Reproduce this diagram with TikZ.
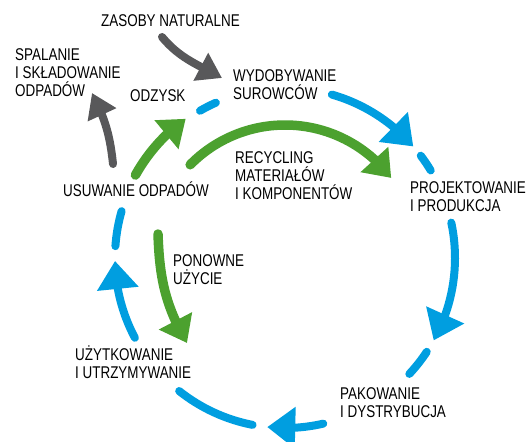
\documentclass[tikz,border=0pt]{standalone}
\usepackage{fontspec}
\setmainfont[FakeStretch=0.79]{Liberation Sans}
\usetikzlibrary{arrows.meta,bending,calc}
\definecolor{cblue}{RGB}{0,158,224}
\definecolor{cgreen}{RGB}{76,161,47}
\definecolor{cgray}{RGB}{88,88,90}
\begin{document}
\begin{tikzpicture}[x=1pt,y=1pt,
  lbl/.style={font=\fontsize{17}{18.3}\selectfont, inner sep=0pt, anchor=base west, align=left},
  bluearc/.style={draw=cblue, line width=8pt, line cap=round},
  bluearrow/.style={bluearc, -{Triangle[length=28pt,width=40pt,flex]}},
  greenarrow/.style={draw=cgreen, line width=9.5pt, line cap=round, -{Triangle[length=25pt,width=36pt,flex]}},
  grayarrow/.style={draw=cgray, line width=8pt, line cap=round, -{Triangle[length=24pt,width=30pt,flex]}},
]
\useasboundingbox (0,0) rectangle (526,441);
\coordinate (C) at (285,183);

% labels (anchor = baseline of the last line)
\node[lbl] (zasoby) at (101,414.3) {ZASOBY NATURALNE};
\node[lbl] (spalanie) at (15,344.3) {SPALANIE\\I SKŁADOWANIE\\ODPADÓW};
\node[lbl] (odzysk) at (130,339) {ODZYSK};
\node[lbl] (wydob) at (233,341) {WYDOBYWANIE\\SUROWCÓW};
\node[lbl] (recycl) at (235,241) {RECYCLING\\MATERIAŁÓW\\I KOMPONENTÓW};
\node[lbl] (projekt) at (410,229.3) {PROJEKTOWANIE\\I PRODUKCJA};
\node[lbl] (usuw) at (63,244.3) {USUWANIE ODPADÓW};
\node[lbl] (ponowne) at (173,156) {PONOWNE\\UŻYCIE};
\node[lbl] (uzytk) at (75,62.7) {UŻYTKOWANIE\\I UTRZYMYWANIE};
\node[lbl] (pakow) at (340,23.3) {PAKOWANIE\\I DYSTRYBUCJA};

% blue cycle
\draw[bluearc] ($(C)+(120:170)$) arc[start angle=120,end angle=114,radius=170];
\draw[bluearrow] ($(C)+(74:170)$) arc[start angle=74,end angle=41,radius=170];
\draw[bluearc] ($(C)+(37:170)$) arc[start angle=37,end angle=31,radius=170];
\draw[bluearrow] ($(C)+(12:170)$) arc[start angle=12,end angle=-29,radius=170];
\draw[bluearc] ($(C)+(-33.5:170)$) arc[start angle=-33.5,end angle=-43,radius=170];
\draw[bluearrow] ($(C)+(-77:170)$) arc[start angle=-77,end angle=-96,radius=170];
\draw[bluearc] ($(C)+(-101:170)$) arc[start angle=-101,end angle=-128.5,radius=170];
\draw[bluearrow] ($(C)+(208:170)$) arc[start angle=208,end angle=181,radius=170];
\draw[bluearc] ($(C)+(176:170)$) arc[start angle=176,end angle=164,radius=170];

% green arrows
\draw[greenarrow] ($(C)+(151:171)$) arc[start angle=151,end angle=125.5,radius=171];
\draw[greenarrow] ($(C)+(135.5:133)$) arc[start angle=135.5,end angle=37,radius=133];
\draw[greenarrow] (158,207) to[out=-88,in=120] (187,98);

% gray arrows
\draw[grayarrow] (162,404) to[out=-50,in=151] (222,363);
\draw[grayarrow] (113,277) to[out=96,in=-63] (92,348);
\end{tikzpicture}
\end{document}
